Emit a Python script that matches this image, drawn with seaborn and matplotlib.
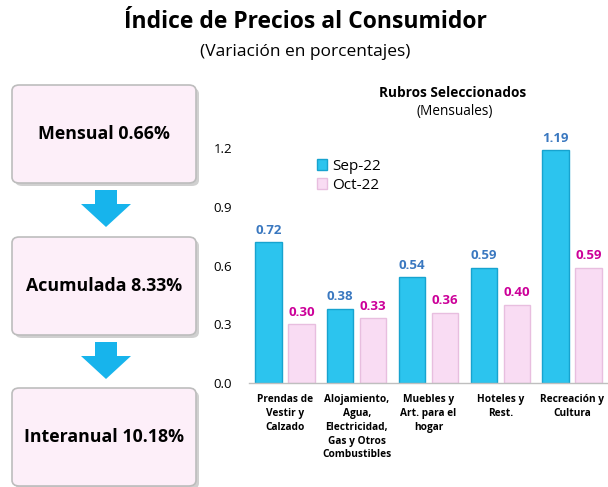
import pandas as pd
import seaborn as sns
import matplotlib.pyplot as plt
from matplotlib.patches import FancyBboxPatch, Polygon, Patch

# Chart data
categories = ["Prendas de\nVestir y\nCalzado",
              "Alojamiento,\nAgua,\nElectricidad,\nGas y Otros\nCombustibles",
              "Muebles y\nArt. para el\nhogar",
              "Hoteles y\nRest.",
              "Recreación y\nCultura"]
periods = ["Sep-22", "Oct-22"]
sep_values = [0.72, 0.38, 0.54, 0.59, 1.19]
oct_values = [0.30, 0.33, 0.36, 0.40, 0.59]
summary_labels = ["Mensual 0.66%", "Acumulada 8.33%", "Interanual 10.18%"]
y_ticks = [0.0, 0.3, 0.6, 0.9, 1.2]

sns.set_theme(style="white")
plt.rcParams['font.family'] = ['Open Sans', 'DejaVu Sans']
plt.rcParams['text.color'] = 'black'
plt.rcParams['xtick.color'] = 'black'
plt.rcParams['ytick.color'] = 'black'

W, H = 608, 487
fig = plt.figure(figsize=(W / 100, H / 100), dpi=100)


def fx(x):
    return x / W


def fy(y):
    return 1 - y / H


df = pd.DataFrame({
    "Rubro": categories * 2,
    "Periodo": [periods[0]] * 5 + [periods[1]] * 5,
    "Valor": sep_values + oct_values,
})

ax = fig.add_axes([fx(249), fy(383), fx(608) - fx(249), fy(119) - fy(383)])
sns.barplot(data=df, x="Rubro", y="Valor", hue="Periodo", ax=ax,
            palette=["#2CC4EE", "#F9DCF3"], width=0.92, gap=0.2,
            saturation=1, legend=False)

edge_colors = ["#17A3CF", "#E8BEDF"]
label_colors = ["#3A78C0", "#CC0099"]
for cont, ec, lc in zip(ax.containers, edge_colors, label_colors):
    for bar in cont:
        bar.set_edgecolor(ec)
        bar.set_linewidth(1.0)
    ax.bar_label(cont, fmt="%.2f", padding=4, color=lc,
                 fontsize=9.5, fontweight="bold")

ax.set_ylim(0, 1.35)
ax.set_xlim(-0.5, 4.5)
ax.set_yticks(y_ticks)
ax.set_yticklabels([f"{t:.1f}" for t in y_ticks], fontsize=9.5)
ax.set_xticks(range(len(categories)))
ax.set_xticklabels(categories, fontsize=7.3, fontweight="bold",
                   linespacing=1.35, va="top")
ax.tick_params(axis="x", length=0, pad=8)
ax.tick_params(axis="y", length=0, pad=12)
ax.set_xlabel("")
ax.set_ylabel("")
for side in ["top", "right", "left"]:
    ax.spines[side].set_visible(False)
ax.spines["bottom"].set_color("#BFBFBF")
ax.spines["bottom"].set_linewidth(1.0)

# legend
handles = [Patch(facecolor="#2CC4EE", edgecolor="#17A3CF"),
           Patch(facecolor="#F9DCF3", edgecolor="#E8BEDF")]
fig.legend(handles, periods, loc="upper left",
           bbox_to_anchor=(fx(303), fy(145)), frameon=False, fontsize=11,
           handlelength=0.7, handleheight=0.7, handletextpad=0.3,
           labelspacing=0.25)

# titles
fig.text(fx(305), fy(22), "Índice de Precios al Consumidor", ha="center",
         va="center", fontsize=16.5, fontweight="bold")
fig.text(fx(305), fy(52), "(Variación en porcentajes)", ha="center",
         va="center", fontsize=12.5)
fig.text(fx(453), fy(93), "Rubros Seleccionados", ha="center",
         va="center", fontsize=9.8, fontweight="bold")
fig.text(fx(455), fy(112), "(Mensuales)", ha="center", va="center",
         fontsize=9.8)

# left summary boxes
box_tops = [85, 237, 388]
for top, label in zip(box_tops, summary_labels):
    shadow = FancyBboxPatch((fx(15), fy(top + 101)), fx(184) - fx(0),
                            fy(0) - fy(98),
                            boxstyle="round,pad=0,rounding_size=0.012",
                            transform=fig.transFigure, facecolor="#D0D0D0",
                            edgecolor="none", zorder=1)
    fig.patches.append(shadow)
    box = FancyBboxPatch((fx(12), fy(top + 98)), fx(184) - fx(0),
                         fy(0) - fy(98),
                         boxstyle="round,pad=0,rounding_size=0.012",
                         transform=fig.transFigure, facecolor="#FDEFF9",
                         edgecolor="#BDBDBD", linewidth=1.2, zorder=2)
    fig.patches.append(box)
    fig.text(fx(104), fy(top + 49), label, ha="center", va="center",
             fontsize=12.8, fontweight="bold", zorder=3)

# arrows between boxes
for top in [190, 342]:
    pts = [(95, top), (117, top), (117, top + 14), (131, top + 14),
           (106, top + 37), (81, top + 14), (95, top + 14)]
    arrow = Polygon([(fx(x), fy(y)) for x, y in pts], closed=True,
                    transform=fig.transFigure, facecolor="#17B4EC",
                    edgecolor="none", zorder=2)
    fig.patches.append(arrow)

fig.savefig("out.png", dpi=100)
